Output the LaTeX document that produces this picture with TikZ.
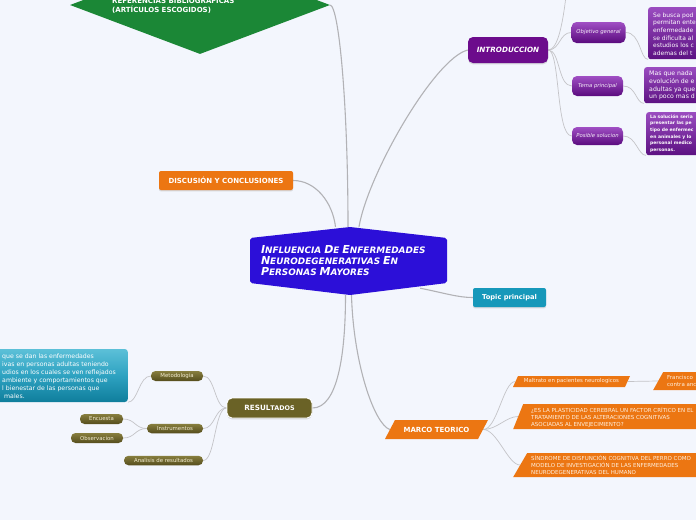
\documentclass[tikz,border=0pt]{standalone}
\usepackage{fontspec}
\setmainfont{DejaVu Sans}
\usetikzlibrary{shapes.geometric,shadows,calc}
\definecolor{bgC}{HTML}{F3F6FD}
\definecolor{greenC}{HTML}{1B8736}
\definecolor{rootC}{HTML}{2C0FD8}
\definecolor{introC}{HTML}{6C0C8C}
\definecolor{purTop}{HTML}{A04FC4}
\definecolor{purBot}{HTML}{5A0B7E}
\definecolor{boxTop}{HTML}{9A4CC0}
\definecolor{boxBot}{HTML}{5C1182}
\definecolor{orangeC}{HTML}{EC7612}
\definecolor{topicC}{HTML}{1698BA}
\definecolor{tealTop}{HTML}{5CC0D8}
\definecolor{tealMid}{HTML}{2EA2C1}
\definecolor{tealBot}{HTML}{0F7E9C}
\definecolor{olTop}{HTML}{877E3E}
\definecolor{olBot}{HTML}{554D1D}
\definecolor{olC}{HTML}{6A6226}
\definecolor{lineC}{HTML}{C4C4C8}
\definecolor{mainLineC}{HTML}{B2B2B6}
\definecolor{paleC}{HTML}{FFF0E0}
\definecolor{olText}{HTML}{F4EED2}
\newcommand\fsz[2]{\fontsize{#1}{#2}\selectfont}
\newcommand\bsc[2]{{\fsz{11}{11}#1}{\fsz{8.9}{11}#2}}
\pgfdeclarelayer{back}
\pgfdeclarelayer{lines}
\pgfsetlayers{back,lines,main}
\tikzset{
  conn/.style={draw=lineC, line width=0.7pt},
  mainconn/.style={draw=mainLineC, line width=1.1pt},
  shadowS/.style={drop shadow={opacity=0.25, shadow xshift=0pt, shadow yshift=-1.4pt}},
  pill/.style={rounded corners=5pt, top color=purTop, bottom color=purBot, text=white!92!purTop,
    font=\itshape\fsz{5.3}{6}, inner sep=0},
  pbox/.style={rounded corners=2.5pt, top color=boxTop, bottom color=boxBot, inner sep=0},
  olpill/.style={rounded corners=4.5pt, top color=olTop, bottom color=olBot, text=olText,
    font=\fsz{5.4}{6}, inner sep=0, minimum height=10},
  para/.style={inner sep=0, path picture={\fill[orangeC]
      ([xshift=#1]path picture bounding box.north west) --
      (path picture bounding box.north east) --
      ([xshift=-#1]path picture bounding box.south east) --
      (path picture bounding box.south west) -- cycle;}},
  rootnode/.style={inner sep=0, minimum width=197, minimum height=68, text width=175,
    align=left, text=white, font=\bfseries\itshape\fsz{8.9}{11},
    path picture={\fill[rootC, rounded corners=2pt]
      ([yshift=-11pt]path picture bounding box.north west) --
      ([xshift=1.5pt]path picture bounding box.north) --
      ([yshift=-11pt]path picture bounding box.north east) --
      ([yshift=12pt]path picture bounding box.south east) --
      ([xshift=1.5pt]path picture bounding box.south) --
      ([yshift=12pt]path picture bounding box.south west) -- cycle;}},
  txt/.style={inner sep=0, align=left}
}
\begin{document}
\begin{tikzpicture}[x=1pt,y=1pt]
\useasboundingbox (0,0) rectangle (696,-520);
\begin{pgfonlayer}{back}
\fill[bgC] (0,0) rectangle (696,-520);
\end{pgfonlayer}

% ---------- main nodes
\node[diamond, fill=greenC, minimum width=260, minimum height=98, inner sep=0] (refs) at (200,-5) {};
\node[anchor=base west, inner sep=0, text=white, font=\bfseries\fsz{7}{8.5}] (refsA) at (112,-3.3) {REFERENCIAS BIBLIOGRÁFICAS};
\node[anchor=base west, inner sep=0, text=white, font=\bfseries\fsz{7}{8.5}] (refsB) at (112,-12.3) {(ARTÍCULOS ESCOGIDOS)};

\node[rootnode] (root) at (348.5,-261) {\bsc{I}{NFLUENCIA} \bsc{D}{E} \bsc{E}{NFERMEDADES}\\
\bsc{N}{EURODEGENERATIVAS} \bsc{E}{N}\\
\bsc{P}{ERSONAS} \bsc{M}{AYORES}};

\node[rounded corners=5pt, fill=introC, minimum width=80, minimum height=26, inner sep=0, text=white,
  font=\bfseries\itshape\fsz{7.2}{8}, shadowS] (intro) at (508,-50) {INTRODUCCION};
\coordinate (introUp) at (566,4);

\node[pill, minimum width=54, minimum height=21] (obj) at (598.5,-32.5) {Objetivo general};
\node[pill, minimum width=51, minimum height=20] (tema) at (597.5,-86) {Tema principal};
\node[pill, minimum width=51, minimum height=18] (pos) at (597.5,-136) {Posible solucion};

\node[pbox, anchor=north west, minimum width=70, minimum height=52] (objBox) at (648,-7) {};
\node[txt, anchor=west, text=white, font=\fsz{6}{7.6}] (objTx) at (653,-34) {Se busca pod\\permitan ente\\enfermedade\\se dificulta al\\estudios los c\\ademas del t};
\node[pbox, anchor=north west, minimum width=70, minimum height=36] (temaBox) at (644,-67) {};
\node[txt, anchor=west, text=white, font=\fsz{6.2}{7.7}] (temaTx) at (649,-85.5) {Mas que nada\\evolución de e\\adultas ya que\\un poco mas d};
\node[pbox, anchor=north west, minimum width=70, minimum height=43] (posBox) at (646,-112) {};
\node[txt, anchor=west, text=white, font=\bfseries\fsz{4.5}{6.6}] (posTx) at (650,-133.5) {La solución seria\\presentar las pe\\tipo de enfermec\\en animales y lo\\personal medico\\personas.};

\node[rounded corners=2pt, fill=orangeC, minimum width=134, minimum height=19, inner sep=0, text=white,
  font=\bfseries\fsz{7}{8}, shadowS] (disc) at (226,-180.5) {DISCUSIÓN Y CONCLUSIONES};
\node[rounded corners=2pt, fill=topicC, minimum width=73, minimum height=19, inner sep=0, text=white,
  font=\bfseries\fsz{6.7}{8}, shadowS] (topic) at (509.5,-297.5) {Topic principal};

% ---------- marco teorico
\node[para=10pt, minimum width=103, minimum height=19, text=white, font=\bfseries\fsz{7}{8}] (marco) at (436.5,-429.5) {MARCO TEORICO};
\node[para=5pt, minimum width=117, minimum height=11, text=paleC, font=\fsz{5.4}{6}] (malt) at (571.5,-381.5) {Maltrato en pacientes neurologicos};
\node[para=10pt, anchor=west, minimum width=110, minimum height=18] (fran) at (653,-381) {};
\node[txt, anchor=west, text=paleC, font=\fsz{5.5}{7.5}] (franTx) at (667,-381) {Francisco\\contra anc};
\node[para=10pt, anchor=west, minimum width=240, minimum height=25] (plast) at (513,-416.5) {};
\node[txt, anchor=west, text=paleC, font=\fsz{5.5}{6.6}] (plastTx) at (531,-417.5) {¿ES LA PLASTICIDAD CEREBRAL UN FACTOR CRÍTICO EN EL\\TRATAMIENTO DE LAS ALTERACIONES COGNITIVAS\\ASOCIADAS AL ENVEJECIMIENTO?};
\node[para=14pt, anchor=west, minimum width=240, minimum height=24] (sind) at (513,-465) {};
\node[txt, anchor=west, text=paleC, font=\fsz{5.5}{7}] (sindTx) at (531,-465) {SÍNDROME DE DISFUNCIÓN COGNITIVA DEL PERRO COMO\\MODELO DE INVESTIGACIÓN DE LAS ENFERMEDADES\\NEURODEGENERATIVAS DEL HUMANO};

% ---------- resultados
\node[rounded corners=5pt, fill=olC, draw=white, line width=0.9pt, minimum width=85, minimum height=20, inner sep=0,
  text=white, shadowS, font=\bfseries\fsz{7.2}{8}] (res) at (269.5,-408) {RESUL{\fsz{6.4}{8}TADOS}};
\node[olpill, minimum width=52] (met) at (177,-376) {Metodologia};
\node[olpill, minimum width=56, minimum height=9.5] (instr) at (175,-428.5) {Instrumentos};
\node[olpill, minimum width=79, minimum height=9.5] (anal) at (163.5,-460.5) {Analisis de resultados};
\node[olpill, minimum width=43] (enc) at (101.5,-419) {Encuesta};
\node[olpill, minimum width=52] (obs) at (97,-438) {Observacion};
\node[rounded corners=3pt, top color=tealTop, bottom color=tealBot, middle color=tealMid, inner sep=0,
  anchor=east, minimum width=140, minimum height=53] (metBox) at (128,-375.5) {};
\node[txt, anchor=west, text=white, font=\fsz{6.2}{7.9}] (metTx) at (2,-376) {que se dan las enfermedades\\ivas en personas adultas teniendo\\udios en los cuales se ven reflejados\\ambiente y comportamientos que\\l bienestar de las personas que\\\ males.};

% ---------- connectors
\begin{pgfonlayer}{lines}
\draw[mainconn] (refs.east) .. controls +(9,-2) and +(0,120) .. ([xshift=-0.5]root.north);
\draw[mainconn] (disc.east) .. controls +(22,0) and +(-3,25) .. ([xshift=-13]root.north);
\draw[mainconn] (intro.west) .. controls +(-33,-8) and +(9,53) .. ([xshift=10.5]root.north);
\draw[mainconn] ([shift={(-27,7)}]root.south east) .. controls +(25,-5) and +(-15,0) .. (topic.west);
\draw[mainconn] ([xshift=-3]root.south) .. controls +(0,-60) and +(25,0) .. (res.east);
\draw[mainconn] ([xshift=3]root.south) .. controls +(2,-70) and +(-15,5) .. ([xshift=5]marco.west);

\draw[conn] (intro.east) .. controls +(10,0) and +(-3,-25) .. (introUp);
\draw[conn] (intro.east) .. controls +(12,0) and +(-12,0) .. (obj.west);
\draw[conn] (intro.east) .. controls +(12,0) and +(-14,0) .. (tema.west);
\draw[conn] (intro.east) .. controls +(12,0) and +(-16,0) .. (pos.west);
\draw[conn] (obj.east) .. controls +(15,0) and +(-8,0) .. (objBox.south west);
\draw[conn] (tema.east) .. controls +(13,0) and +(-8,0) .. (temaBox.south west);
\draw[conn] (pos.east) .. controls +(13,0) and +(-8,0) .. (posBox.south west);

\draw[conn] ([xshift=-5]marco.east) .. controls +(14,0) and +(-12,0) .. ([xshift=2.5]malt.west);
\draw[conn] ([xshift=-5]marco.east) .. controls +(14,0) and +(-12,0) .. ([xshift=5]plast.west);
\draw[conn] ([xshift=-5]marco.east) .. controls +(14,0) and +(-12,0) .. ([xshift=7]sind.west);
\draw[conn] ([xshift=-2.5]malt.east) -- ([xshift=5]fran.west);

\draw[conn] (res.west) .. controls +(-12,0) and +(12,0) .. (met.east);
\draw[conn] (res.west) .. controls +(-12,0) and +(12,0) .. (instr.east);
\draw[conn] (res.west) .. controls +(-12,0) and +(12,0) .. (anal.east);
\draw[conn] (met.west) .. controls +(-12,0) and +(10,0) .. (metBox.south east);
\draw[conn] (instr.west) .. controls +(-12,0) and +(12,0) .. (enc.east);
\draw[conn] (instr.west) .. controls +(-12,0) and +(12,0) .. (obs.east);
\end{pgfonlayer}
\end{tikzpicture}
\end{document}
